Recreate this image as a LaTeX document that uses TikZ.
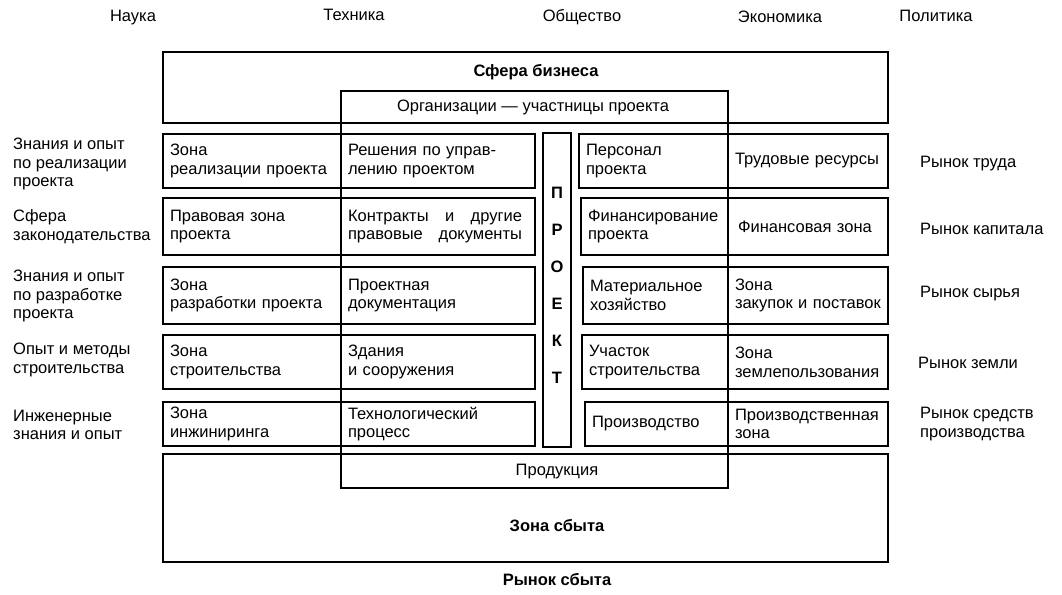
\documentclass[tikz,border=0pt]{standalone}
\usepackage{fontspec}
\setmainfont{Liberation Sans}
\newcommand\fs{\fontsize{16.5}{18.7}\selectfont}
\newcommand\cellnode[6]{%
  \pgfmathsetmacro\cw{#4-#2}%
  \pgfmathsetmacro\ch{#5-#3}%
  \pgfmathsetmacro\tw{#4-#2-14}%
  \node[cellbox, minimum width=\cw pt, minimum height=\ch pt, text width=\tw pt] (#1) at ({(#2+#4)/2},{(#3+#5)/2+1}) {#6};}
\newcommand\framenode[5]{%
  \pgfmathsetmacro\cw{#4-#2}%
  \pgfmathsetmacro\ch{#5-#3}%
  \node[framebox, minimum width=\cw pt, minimum height=\ch pt] (#1) at ({(#2+#4)/2},{(#3+#5)/2}) {};}
\begin{document}
\begin{tikzpicture}[x=1pt,y=-1pt,
  framebox/.style={draw, line width=1.4pt, inner sep=0pt},
  cellbox/.style={draw, line width=1.4pt, inner xsep=7pt, inner ysep=0pt, align=left, font=\fs},
  lbl/.style={inner sep=0pt, align=left, font=\fs},
  toplbl/.style={inner sep=0pt, anchor=base, font=\fs},
  bold/.style={inner sep=0pt, font=\fs\bfseries}]
\useasboundingbox (0,0) rectangle (1062,594);
% top labels
\node[toplbl] (nauka) at (133,22) {Наука};
\node[toplbl] (tech) at (354,21) {Техника};
\node[toplbl] (obsh) at (582,22) {Общество};
\node[toplbl] (econ) at (780,23) {Экономика};
\node[toplbl] (polit) at (936,22) {Политика};
% large frames
\framenode{sfera}{163}{52}{888}{123}
\framenode{org}{341}{91}{728}{488}
\framenode{sbyt}{163}{454}{888}{562}
\node[bold] (sferat) at (536,72) {Сфера бизнеса};
\node[lbl] (orgt) at (533,107) {Организации — участницы проекта};
\node[lbl] (prodt) at (557,472) {Продукция};
\node[bold] (sbytt) at (557,526) {Зона сбыта};
\node[bold] (rsbyt) at (557,580) {Рынок сбыта};
% project bar
\framenode{proj}{543}{133}{571}{447}
\foreach \l [count=\i from 0] in {П,Р,О,Е,К,Т}
  \node[bold] (pl\i) at (557,{193+37*\i}) {\l};
% rows
\cellnode{a1}{163}{133}{341}{187}{Зона\\реализации проекта}
\cellnode{b1}{341}{133}{535}{187}{Решения по управ-\\лению проектом}
\cellnode{c1}{579}{133}{728}{187}{Персонал\\проекта}
\cellnode{d1}{728}{133}{888}{187}{Трудовые ресурсы}
\cellnode{a2}{163}{197}{341}{254}{Правовая зона\\проекта}
\cellnode{b2}{341}{197}{535}{254}{\makebox[174pt][l]{Контракты\hfill и\hfill другие}\\\makebox[174pt][l]{правовые\hfill документы}}
\cellnode{c2}{581}{197}{728}{254}{Финансирование\\проекта}
\cellnode{d2}{728}{197}{888}{254}{\hspace*{3pt}Финансовая зона}
\cellnode{a3}{163}{266}{341}{323}{Зона\\разработки проекта}
\cellnode{b3}{341}{266}{535}{323}{Проектная\\документация}
\cellnode{c3}{583}{266}{728}{323}{Материальное\\хозяйство}
\cellnode{d3}{728}{266}{888}{323}{Зона\\закупок и поставок}
\cellnode{a4}{163}{334}{341}{388}{Зона\\строительства}
\cellnode{b4}{341}{334}{535}{388}{Здания\\и сооружения}
\cellnode{c4}{582}{334}{728}{388}{Участок\\строительства}
\cellnode{d4}{728}{334}{888}{388}{Зона\\землепользования}
\cellnode{a5}{163}{401}{341}{445}{Зона\\инжиниринга}
\cellnode{b5}{341}{401}{535}{445}{Технологический\\процесс}
\cellnode{c5}{585}{401}{728}{445}{Производство}
\cellnode{d5}{728}{401}{888}{445}{Производственная\\зона}
% left labels
\node[lbl, anchor=west] (l1) at (13,164) {Знания и опыт\\по реализации\\проекта};
\node[lbl, anchor=west] (l2) at (13,227) {Сфера\\законодательства};
\node[lbl, anchor=west] (l3) at (13,296) {Знания и опыт\\по разработке\\проекта};
\node[lbl, anchor=west] (l4) at (13,360) {Опыт и методы\\строительства};
\node[lbl, anchor=west] (l5) at (13,425) {Инженерные\\знания и опыт};
% right labels
\node[lbl, anchor=west] (r1) at (920,164) {Рынок труда};
\node[lbl, anchor=west] (r2) at (920,229) {Рынок капитала};
\node[lbl, anchor=west] (r3) at (920,294) {Рынок сырья};
\node[lbl, anchor=west] (r4) at (918,363) {Рынок земли};
\node[lbl, anchor=west] (r5) at (920,424) {Рынок средств\\производства};
\end{tikzpicture}
\end{document}
